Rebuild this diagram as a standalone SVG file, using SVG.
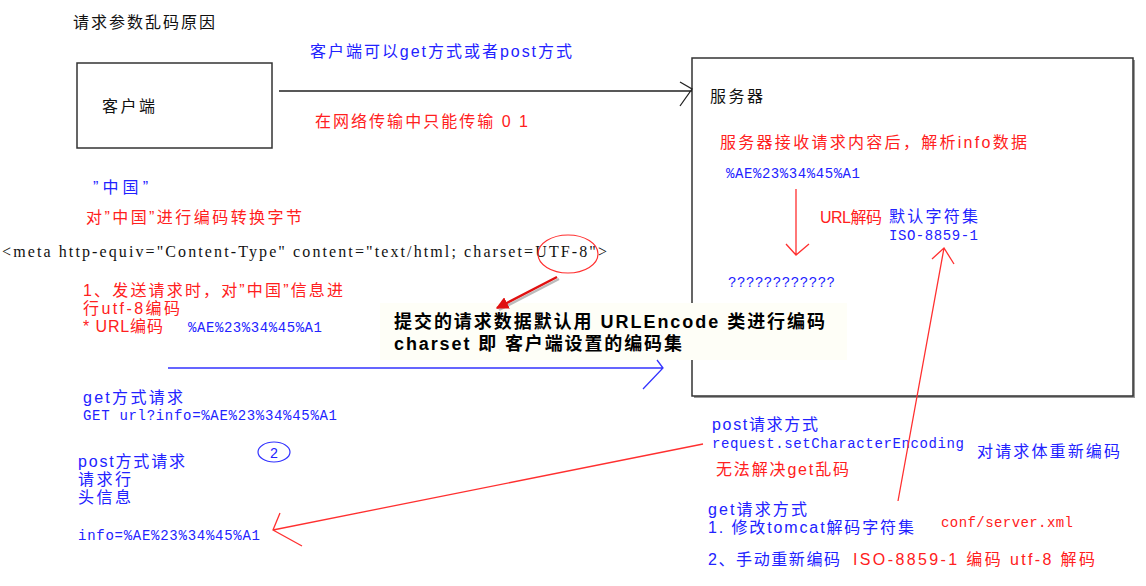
<svg xmlns="http://www.w3.org/2000/svg" width="1146" height="586" viewBox="0 0 1146 586">
<style>
.t{font-family:"Liberation Sans","Noto Sans CJK SC",sans-serif;font-size:16px;}
.m{font-family:"Liberation Mono","Noto Sans CJK SC",monospace;font-size:14px;}
.s{font-family:"Liberation Serif","Noto Sans CJK SC",serif;font-size:16px;}
.k{fill:#111;}
.b{fill:#2222ff;}
.r{fill:#ff2020;}
.cb{font-family:"Liberation Sans","Noto Sans CJK SC",sans-serif;font-size:18px;font-weight:bold;fill:#000;}
.box{fill:#fff;stroke:#333;stroke-width:1.5;}
.lk{stroke:#222;stroke-width:1.3;fill:none;}
.lb{stroke:#3333ff;stroke-width:1.3;fill:none;}
.lr{stroke:#ff3030;stroke-width:1.3;fill:none;}
</style>
<defs>
<marker id="redHead" viewBox="0 0 10 10" refX="9" refY="5" markerWidth="5" markerHeight="5" orient="auto">
<path d="M0,0 L10,5 L0,10 z" fill="#e01010"/>
</marker>
</defs>
<rect width="1146" height="586" fill="#fff"/>

<text class="t k" x="73" y="28" font-size="17" textLength="142">请求参数乱码原因</text>

<g id="client">
<rect class="box" x="77" y="63" width="195" height="85"/>
<text class="t k" x="102" y="112" font-size="17" textLength="53">客户端</text>
</g>

<g id="server">
<rect x="694" y="60" width="441" height="338" fill="#999"/>
<rect class="box" x="692" y="58" width="441" height="338"/>
<text class="t k" x="710" y="102" font-size="17" textLength="53">服务器</text>
<text class="t r" x="720" y="148" font-size="17" textLength="307">服务器接收请求内容后，解析info数据</text>
<text class="m b" x="726" y="178" textLength="134">%AE%23%34%45%A1</text>
<text class="t r" x="820" y="223" textLength="62">URL解码</text>
<text class="t b" x="889" y="222" font-size="17" textLength="89">默认字符集</text>
<text class="m b" x="889" y="240" font-size="15" textLength="89">ISO-8859-1</text>
<text class="m b" x="728" y="287" font-size="15" textLength="107">????????????</text>
</g>

<g id="callout">
<rect x="380" y="303" width="467" height="57" fill="#fefef7"/>
<text class="cb" x="394" y="328" textLength="431">提交的请求数据默认用 URLEncode 类进行编码</text>
<text class="cb" x="394" y="350" textLength="288">charset 即 客户端设置的编码集</text>
</g>

<g id="labels">
<text class="t b" x="310" y="57" font-size="17" textLength="262">客户端可以get方式或者post方式</text>
<text class="t r" x="315" y="127" font-size="17" textLength="213">在网络传输中只能传输 0 1</text>
<text class="t b" x="93" y="193" font-size="17" textLength="55">”中国”</text>
<text class="t r" x="86" y="223" font-size="17" textLength="216">对”中国”进行编码转换字节</text>
<text class="s k" x="2" y="257" textLength="605">&lt;meta http-equiv="Content-Type" content="text/html; charset=UTF-8"&gt;</text>
<text class="t r" x="83" y="296" textLength="260">1、发送请求时，对”中国”信息进</text>
<text class="t r" x="83" y="314" font-size="15" textLength="97">行utf-8编码</text>
<text class="t r" x="83" y="332" font-size="15" textLength="80">* URL编码</text>
<text class="m b" x="188" y="332" textLength="134">%AE%23%34%45%A1</text>
<text class="t b" x="83" y="403" textLength="100">get方式请求</text>
<text class="m b" x="83" y="420" textLength="254">GET url?info=%AE%23%34%45%A1</text>
<text class="t b" x="78" y="467" font-size="15" textLength="107">post方式请求</text>
<text class="t b" x="78" y="485" font-size="15" textLength="53">请求行</text>
<text class="t b" x="78" y="503" font-size="15" textLength="53">头信息</text>
<text class="m b" x="78" y="540" textLength="182">info=%AE%23%34%45%A1</text>
<ellipse cx="274" cy="452" rx="16" ry="10" fill="none" stroke="#3333ff" stroke-width="1.2"/>
<text class="m b" x="274" y="458" font-size="15" text-anchor="middle">2</text>
<text class="t b" x="712" y="430" textLength="106">post请求方式</text>
<text class="m b" x="712" y="448" textLength="252">request.setCharacterEncoding</text>
<text class="t b" x="977" y="457" font-size="17" textLength="143">对请求体重新编码</text>
<text class="t r" x="716" y="475" textLength="133">无法解决get乱码</text>
<text class="t b" x="708" y="515" textLength="99">get请求方式</text>
<text class="t b" x="708" y="533" textLength="206">1. 修改tomcat解码字符集</text>
<text class="m r" x="941" y="527" textLength="132">conf/server.xml</text>
<text class="t b" x="708" y="565" textLength="132">2、手动重新编码</text>
<text class="t r" x="853" y="565" textLength="242">ISO-8859-1 编码  utf-8 解码</text>
</g>

<g id="connectors">
<path class="lk" d="M279,91 L692,91 M680,82 L692,89 L680,106"/>
<path class="lr" d="M796,189 L796,255 M786,244 L796,255 L809,244"/>
<ellipse cx="568" cy="254" rx="30" ry="19" fill="none" stroke="#ff3030" stroke-width="1.2"/>
<path d="M559,279 L499,310" stroke="#bbb" stroke-width="2.5" fill="none"/>
<path d="M557,277 L497,308" stroke="#e01010" stroke-width="2.5" fill="none" marker-end="url(#redHead)"/>
<path class="lb" d="M168,368 L663,368 M657,360 L663,368 L643,389"/>
<path class="lr" d="M898,501 L944,248 M932,259 L944,248 L954,264"/>
<path class="lr" d="M703,444 L273,530 M280,513 L273,530 L302,546"/>
</g>
</svg>
